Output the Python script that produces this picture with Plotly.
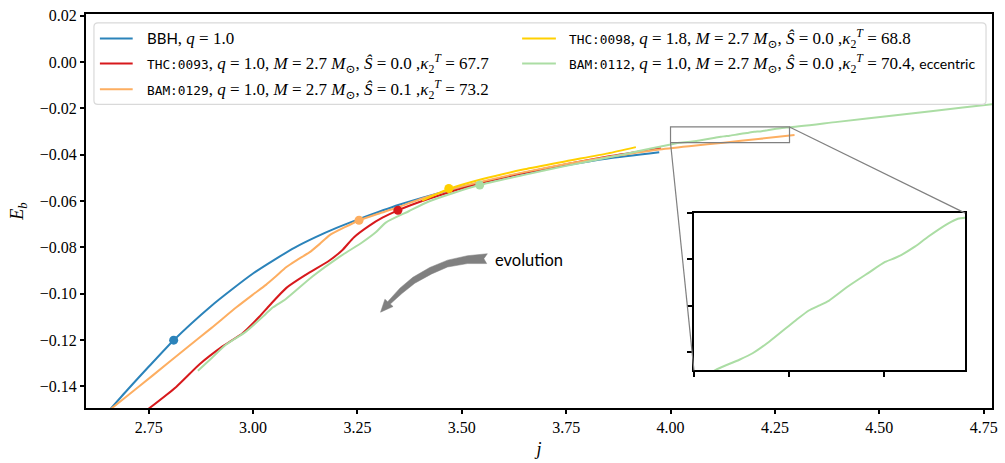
import plotly.graph_objects as go

# ---------------- data ----------------
bbh_j = [2.65, 2.70, 2.75, 2.81, 2.90, 2.95, 3.00, 3.05, 3.10, 3.15, 3.20, 3.254, 3.35,
         3.469, 3.55, 3.65, 3.75, 3.85, 3.973]
bbh_E = [-0.1516, -0.1414, -0.1316, -0.1201, -0.1053, -0.0981, -0.0913, -0.0855, -0.0801,
         -0.0756, -0.0716, -0.0678, -0.0616, -0.0554, -0.0518, -0.0479, -0.0445, -0.0416,
         -0.0389]

thc93_j = [2.748, 2.816, 2.872, 2.927, 2.975, 3.015, 3.040, 3.080, 3.127, 3.183, 3.215,
           3.242, 3.278, 3.31, 3.347, 3.421, 3.55, 3.65, 3.75, 3.85, 3.977]
thc93_E = [-0.1500, -0.1403, -0.1305, -0.1228, -0.1171, -0.1100, -0.1050, -0.0975, -0.0918,
           -0.0857, -0.0810, -0.0756, -0.0707, -0.0672, -0.0640, -0.0590, -0.0520, -0.0478,
           -0.0441, -0.0408, -0.0372]

bam129_j = [2.65, 2.70, 2.76, 2.84, 2.90, 2.961, 3.00, 3.031, 3.055, 3.080, 3.105, 3.135,
            3.16, 3.183, 3.22, 3.254, 3.30, 3.342, 3.40, 3.461, 3.55, 3.65, 3.75, 3.85,
            3.969, 4.05, 4.127, 4.21, 4.297]
bam129_E = [-0.1512, -0.1440, -0.1353, -0.1236, -0.1149, -0.1058, -0.1004, -0.0962, -0.0925,
            -0.0885, -0.0855, -0.0822, -0.0785, -0.0748, -0.0713, -0.0684, -0.0655, -0.0630,
            -0.0592, -0.0557, -0.0515, -0.0475, -0.0440, -0.0410, -0.0378, -0.0362, -0.0348,
            -0.0332, -0.0315]

thc98_j = [3.405, 3.469, 3.55, 3.65, 3.75, 3.85, 3.917]
thc98_E = [-0.0598, -0.0548, -0.0505, -0.0463, -0.0428, -0.0394, -0.0367]

bam112_j = [2.868, 2.90, 2.935, 2.983, 3.031, 3.048, 3.078, 3.143, 3.207, 3.262, 3.294,
            3.318, 3.373, 3.421, 3.48, 3.543, 3.65, 3.75, 3.85, 3.93, 3.977,
            4.0216, 4.0477, 4.0616, 4.0790, 4.1068, 4.1207, 4.1312, 4.1416, 4.1625, 4.1834,
            4.2008, 4.2112, 4.2182, 4.2321, 4.2460, 4.2669, 4.2773, 4.2843,
            4.40, 4.55, 4.70, 4.80]
bam112_E = [-0.1333, -0.1280, -0.1221, -0.1164, -0.1087, -0.1059, -0.1024, -0.0925, -0.0841,
            -0.0778, -0.0735, -0.0693, -0.0644, -0.0602, -0.0565, -0.0531, -0.0487, -0.0448,
            -0.0412, -0.0382, -0.0364,
            -0.03481, -0.03434, -0.03406, -0.03356, -0.03264, -0.03221, -0.03200, -0.03179,
            -0.03115, -0.03058, -0.03011, -0.02994, -0.02980, -0.02945, -0.02902, -0.02845,
            -0.02824, -0.02820,
            -0.0258, -0.0227, -0.0196, -0.0176]

# merger markers (bbh, thc93, bam129, thc98, bam112)
dot_j = [2.81, 3.347, 3.254, 3.469, 3.543]
dot_E = [-0.1201, -0.0640, -0.0683, -0.0546, -0.0531]

names = ["BBH", "THC:0093", "BAM:0129", "THC:0098", "BAM:0112"]
q_vals = [1.0, 1.0, 1.0, 1.8, 1.0]
M_vals = [None, 2.7, 2.7, 2.7, 2.7]
S_vals = [None, 0.0, 0.1, 0.0, 0.0]
kappa_vals = [None, 67.7, 73.2, 68.8, 70.4]
extra = ["", "", "", "", "eccentric"]
colors = ["#2b83ba", "#d7191c", "#fdae61", "#ffd000", "#abdda4"]

x_ticks = [2.75, 3.00, 3.25, 3.50, 3.75, 4.00, 4.25, 4.50, 4.75]
y_ticks = [-0.14, -0.12, -0.10, -0.08, -0.06, -0.04, -0.02, 0.00, 0.02]
inset_x_ticks = [4.0, 4.1, 4.2]
inset_y_ticks = [-0.034, -0.032, -0.030, -0.028]

# ---------------- layout geometry ----------------
W, H = 1005, 463
PL, PR, PT, PB = 86, 998, 10, 411
x_range = [2.6, 4.77]
y_range = [-0.1494, 0.0208]
inset_x_range = [4.0, 4.285]
inset_y_range = [-0.0348, -0.028]

def px(x):
    return (x - PL) / (PR - PL)

def py(y):
    return (PB - y) / (PB - PT)

def dx(v):
    return (v - x_range[0]) / (x_range[1] - x_range[0])

def dy(v):
    return (v - y_range[0]) / (y_range[1] - y_range[0])

inset_px = (698, 971, 212.7, 372.7)  # left, right, top, bottom in pixels

SERIF = "Liberation Serif, DejaVu Serif, serif"
SANS = "Lato, DejaVu Sans, sans-serif"

fig = go.Figure()
series = [(bbh_j, bbh_E), (thc93_j, thc93_E), (bam129_j, bam129_E),
          (thc98_j, thc98_E), (bam112_j, bam112_E)]
for i, (xj, yE) in enumerate(series):
    fig.add_trace(go.Scatter(x=xj, y=yE, mode="lines", name=names[i],
                             line=dict(color=colors[i], width=2, shape="spline", smoothing=0.6),
                             showlegend=False, hoverinfo="skip"))
for i in range(len(dot_j)):
    fig.add_trace(go.Scatter(x=[dot_j[i]], y=[dot_E[i]], mode="markers",
                             marker=dict(color=colors[i], size=9), showlegend=False,
                             hoverinfo="skip"))

# inset
fig.add_trace(go.Scatter(x=bam112_j, y=bam112_E, mode="lines", xaxis="x2", yaxis="y2",
                         line=dict(color=colors[4], width=2, shape="spline", smoothing=0.6),
                         showlegend=False, hoverinfo="skip"))

def fmt(v):
    return f"{v:.2f}".replace("-", "\u2212")

axis_common = dict(showgrid=False, zeroline=False, showline=True, mirror=True,
                   linecolor="black", linewidth=2, ticks="outside", ticklen=4,
                   tickwidth=1.5, tickcolor="black",
                   tickfont=dict(family=SERIF, size=16, color="black"))

fig.update_layout(
    width=W, height=H,
    margin=dict(l=PL, r=W - PR, t=PT, b=H - PB),
    paper_bgcolor="white", plot_bgcolor="white",
    font=dict(family=SERIF, color="black"),
    xaxis=dict(range=x_range, tickvals=x_ticks, ticktext=[fmt(v) for v in x_ticks],
               title=dict(text="<i>j</i>", font=dict(family=SERIF, size=18, color="black"),
                          standoff=7),
               **axis_common),
    yaxis=dict(range=y_range, tickvals=y_ticks, ticktext=[fmt(v) for v in y_ticks],
               title=dict(text="<i>E</i><sub><i>b</i></sub>",
                          font=dict(family=SERIF, size=18, color="black"), standoff=11),
               **axis_common),
    xaxis2=dict(domain=[px(inset_px[0]), px(inset_px[1])], range=inset_x_range,
                anchor="y2", tickvals=inset_x_ticks, showticklabels=False,
                showgrid=False, zeroline=False, showline=True, mirror=True,
                linecolor="black", linewidth=2, ticks="outside", ticklen=5,
                tickwidth=1.5, tickcolor="black"),
    yaxis2=dict(domain=[py(inset_px[3]), py(inset_px[2])], range=inset_y_range,
                anchor="x2", tickvals=inset_y_ticks, showticklabels=False,
                showgrid=False, zeroline=False, showline=True, mirror=True,
                linecolor="black", linewidth=2, ticks="outside", ticklen=5,
                tickwidth=1.5, tickcolor="black"),
)

shapes = []
# zoom rectangle + connectors
shapes.append(dict(type="rect", xref="x", yref="y", x0=inset_x_range[0], x1=inset_x_range[1],
                   y0=inset_y_range[0], y1=inset_y_range[1],
                   line=dict(color="#808080", width=1.2)))
shapes.append(dict(type="line", xref="paper", yref="paper",
                   x0=dx(inset_x_range[0]), y0=dy(inset_y_range[0]),
                   x1=px(inset_px[0]), y1=py(inset_px[3]),
                   line=dict(color="#808080", width=1.2)))
shapes.append(dict(type="line", xref="paper", yref="paper",
                   x0=dx(inset_x_range[1]), y0=dy(inset_y_range[1]),
                   x1=px(inset_px[1]), y1=py(inset_px[2]),
                   line=dict(color="#808080", width=1.2)))

# legend box (rounded)
lx0, lx1, ly0, ly1, r = 94, 992, 19, 102, 4
def P(x, y):
    return f"{px(x):.5f},{py(y):.5f}"
legend_path = (f"M {P(lx0 + r, ly0)} L {P(lx1 - r, ly0)} Q {P(lx1, ly0)} {P(lx1, ly0 + r)} "
               f"L {P(lx1, ly1 - r)} Q {P(lx1, ly1)} {P(lx1 - r, ly1)} "
               f"L {P(lx0 + r, ly1)} Q {P(lx0, ly1)} {P(lx0, ly1 - r)} "
               f"L {P(lx0, ly0 + r)} Q {P(lx0, ly0)} {P(lx0 + r, ly0)} Z")
shapes.append(dict(type="path", xref="paper", yref="paper", path=legend_path,
                   line=dict(color="#d9d9d9", width=1.2), fillcolor="rgba(255,255,255,0.85)"))

annotations = []
slots = [(0, 0), (0, 1), (0, 2), (1, 0), (1, 1)]
row_y = [35, 60.5, 86.5]
col_line = [(100, 133), (525, 559)]
col_text = [145, 570]

SANS_SPAN = 'font-family:Lato, DejaVu Sans, sans-serif'
MONO_SPAN = 'font-family:DejaVu Sans Mono, monospace;font-size:12.8px'

def label(i):
    if i == 0:
        return (f'<span style="{SANS_SPAN};font-size:15px">{names[i]}</span>, '
                f'<i>q</i> = {q_vals[i]:.1f}')
    s = (f'<span style="{MONO_SPAN}">{names[i]}</span>, '
         f'<i>q</i> = {q_vals[i]:.1f}, <i>M</i> = {M_vals[i]:.1f} <i>M</i><sub>\u2299</sub>, '
         f'<i>\u015c</i> = {S_vals[i]:.1f} ,<i>\u03ba</i><sub>2</sub><sup><i>T</i></sup> = '
         f'{kappa_vals[i]:.1f}')
    if extra[i]:
        s += f', <span style="{SANS_SPAN};font-size:14px">{extra[i]}</span>'
    return s

for i, (c, rr) in enumerate(slots):
    yv = row_y[rr]
    shapes.append(dict(type="line", xref="paper", yref="paper",
                       x0=px(col_line[c][0]), x1=px(col_line[c][1]), y0=py(yv), y1=py(yv),
                       line=dict(color=colors[i], width=2)))
    annotations.append(dict(xref="paper", yref="paper", x=px(col_text[c]), y=py(yv),
                            xanchor="left", yanchor="middle", showarrow=False,
                            text=label(i), font=dict(family=SERIF, size=17, color="black")))

# curved "evolution" arrow
arrow_pts = [(490, 254), (470, 256), (450, 260.5), (432, 268), (415, 278), (402, 289),
             (389.7, 302.8), (386.9, 300.3), (382.5, 313.5), (395.1, 307.7), (392.3, 305.2),
             (404, 294.5), (417, 284), (434, 274.5), (450, 267.5), (470, 264), (489.3, 264),
             (486.5, 259)]
arrow_path = "M " + " L ".join(P(x, y) for x, y in arrow_pts) + " Z"
shapes.append(dict(type="path", xref="paper", yref="paper", path=arrow_path,
                   line=dict(color="#808080", width=0.5), fillcolor="#808080"))
annotations.append(dict(xref="paper", yref="paper", x=px(496), y=py(260), xanchor="left",
                        yanchor="middle", showarrow=False, text="evolution",
                        font=dict(family=SANS, size=16.5, color="black")))

fig.update_layout(shapes=shapes, annotations=annotations)
fig.write_html("out.html", config={"displayModeBar": False},
               post_script="document.body.style.margin='0px';")
